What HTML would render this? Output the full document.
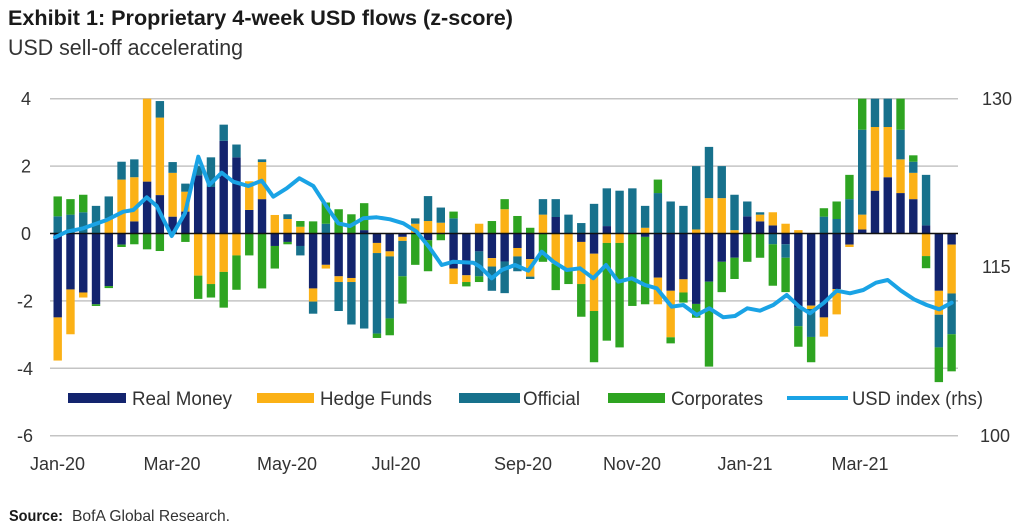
<!DOCTYPE html>
<html><head><meta charset="utf-8">
<style>
html,body{margin:0;padding:0;background:#fff;}
svg{display:block;font-family:"Liberation Sans",Arial,sans-serif;}
</style></head>
<body>
<svg id="c" width="1024" height="529" viewBox="0 0 1024 529" xmlns="http://www.w3.org/2000/svg">
<rect width="1024" height="529" fill="#fff"/>
<text x="8" y="25" font-size="21" font-weight="bold" fill="#1a1a1a" textLength="505" lengthAdjust="spacingAndGlyphs">Exhibit 1: Proprietary  4-week USD flows (z-score)</text>
<text x="8" y="55" font-size="22" fill="#333" textLength="235" lengthAdjust="spacingAndGlyphs">USD sell-off accelerating</text>
<g id="grid" stroke="#c4c4c4" stroke-width="1.5"></g>
<g id="bars"></g>
<line id="zero" x1="50" x2="958" stroke="#111" stroke-width="1.6"/>
<polyline id="usd" fill="none" stroke="#1aa3e5" stroke-width="4" stroke-linejoin="round" stroke-linecap="round"
points="55,237.3 66.7,231.7 83.3,228.3 106.7,220 123.3,211.7 133.3,210 146.7,197.3 156.7,206 171.7,236 185,213.3 198.3,156.7 209.3,185 221.7,172.7 233.3,181.7 248.3,186 261.7,180.7 273.3,196.7 286.7,188.3 299.3,178.3 313.3,186 326.7,206.7 338.3,223.3 350,226 363.3,218.3 376.7,217.3 390,219.3 403.3,223.3 416.7,231.7 430,248.3 441.7,265 453.3,261.7 473.3,262.7 480,266.7 491.7,278.3 501.7,270 515,265 528.3,270.7 541.7,251.7 553.3,261.7 566.7,270 580,268.3 593.3,278.3 606,265 618.3,281.7 631.7,278.3 645,285 656.7,288.3 671.7,306.7 683.3,305 696.7,315 709.3,308.3 723.3,317.3 735,316 747.3,308.3 760,310.7 773.3,305 786.7,295 799.3,306.7 810,313.3 824,302.7 836.7,290.7 850,293.3 863.3,290 876,282.7 887.7,280 901,290.7 914,299.3 926.7,305 939.3,309.3 951.7,302.7"/>
<g font-size="18" fill="#333" text-anchor="end">
<text x="31" y="105">4</text>
<text x="31" y="172.5">2</text>
<text x="31" y="240">0</text>
<text x="33" y="307.5">-2</text>
<text x="33" y="375">-4</text>
<text x="33" y="442">-6</text>
</g>
<g font-size="18" fill="#333">
<text x="982" y="105">130</text>
<text x="982" y="273">115</text>
<text x="980" y="442">100</text>
</g>
<g font-size="18" fill="#333" text-anchor="middle">
<text x="57.5" y="470">Jan-20</text>
<text x="172" y="470">Mar-20</text>
<text x="287" y="470">May-20</text>
<text x="396" y="470">Jul-20</text>
<text x="523" y="470">Sep-20</text>
<text x="632" y="470">Nov-20</text>
<text x="745" y="470">Jan-21</text>
<text x="860" y="470">Mar-21</text>
</g>
<g font-size="19" fill="#333">
<rect x="68" y="393" width="58" height="10" fill="#13246e"/>
<text x="132" y="405" textLength="100" lengthAdjust="spacingAndGlyphs">Real Money</text>
<rect x="257" y="393" width="57" height="10" fill="#fbb116"/>
<text x="320" y="405" textLength="112" lengthAdjust="spacingAndGlyphs">Hedge Funds</text>
<rect x="459" y="393" width="61" height="10" fill="#17718c"/>
<text x="523" y="405" textLength="57" lengthAdjust="spacingAndGlyphs">Official</text>
<rect x="608" y="393" width="57" height="10" fill="#2ea421"/>
<text x="671" y="405" textLength="92" lengthAdjust="spacingAndGlyphs">Corporates</text>
<line x1="787" x2="848" y1="398" y2="398" stroke="#1aa3e5" stroke-width="4"/>
<text x="852" y="405" textLength="131" lengthAdjust="spacingAndGlyphs">USD index (rhs)</text>
</g>
<text x="9" y="521" font-size="16" font-weight="bold" fill="#1a1a1a" textLength="54" lengthAdjust="spacingAndGlyphs">Source:</text>
<text x="72" y="521" font-size="16" fill="#333" textLength="158" lengthAdjust="spacingAndGlyphs">BofA Global Research.</text>
</svg>
<script>
(function(){
var NS="http://www.w3.org/2000/svg";
var y0=233.5,u=33.7;
function Y(v){return y0-v*u;}
var grid=document.getElementById('grid');
[4,2,-2,-4,-6].forEach(function(v){
  var l=document.createElementNS(NS,'line');
  l.setAttribute('x1',50);l.setAttribute('x2',958);
  l.setAttribute('y1',Y(v));l.setAttribute('y2',Y(v));
  grid.appendChild(l);
});
var z=document.getElementById('zero');z.setAttribute('y1',Y(0));z.setAttribute('y2',Y(0));
var C={n:'#13246e',o:'#fbb116',t:'#17718c',g:'#2ea421'};
var D=[
"t.51 g1.1|n-2.49 o-3.77","t.56 g1.02|n-1.66 o-2.99","t.63 g1.15|n-1.75 o-1.9","t.82|n-2.1 g-2.15",
"o.45 t1.1|n-1.56 g-1.62","o1.6 t2.13|n-.33 g-.4","n.36 o1.67 t2.2|g-.32","n1.54 o4|g-.47",
"n1.14 o3.44 t3.93|g-.52","n.5 o1.8 t2.12|","n.65 o1.24 t1.48|g-.25","n1.73 t2|o-1.25 g-1.94",
"n1.38 t2.26|o-1.5 g-1.9","n2.75 t3.23|o-1.14 g-2.2","n2.26 t2.64|o-.65 g-1.67","n.7 o1.55|g-.65",
"n1.02 o2.12 t2.2|g-1.63","o.55|n-.37 g-1.04","o.43 t.57|n-.25 g-.32","o.2 g.37|n-.37 t-.65",
"g.36|n-1.63 o-2.02 t-2.38","t.29 g.92|n-.93 o-1.04","g.72|n-1.27 o-1.44 t-2.3","g.57|n-1.32 o-1.44 t-2.7",
"n.1 g.9|t-2.82","|n-.28 o-.58 t-2.97 g-3.1","|n-.53 o-.68 t-2.52 g-3.02","|n-.1 o-.22 t-1.27 g-2.08",
"o.29 t.45|g-.93","o.37 t1.11|n-.2 g-1.12","o.32 t.77|g-.2","t.45 g.65|n-1.04 o-1.5",
"|n-1.24 o-1.44 g-1.57","o.29|n-.53 t-1.27 g-1.44","g.37|n-.73 o-.98 t-1.7","o.72 g1.02|n-.83 t-1.77",
"g.52|n-.43 o-.68 t-1.12","g.17|n-.76 o-1.28 t-1.35","o.56 t1.02|g-.84","n.49 t1.02|o-.9 g-1.68",
"t.56|o-1.1 g-1.5","t.31|n-.25 o-1.5 g-2.47","t.88|n-.6 o-2.3 g-3.82","n.22 t1.34|o-.28 g-3.18",
"t1.27|o-.28 g-3.38","t1.34|g-2.15","o.17 t.82|n-.1 g-2.1","t1.2 g1.6|n-1.31 o-2.1",
"t.95|n-1.7 o-3.08 g-3.26","t.82|n-1.36 o-1.75 g-2.05","o.12 t2|n-2.09 g-2.5","o1.05 t2.57|n-1.43 g-3.95",
"o1.05 t2|n-.84 g-1.74","o.1 t1.15|n-.72 g-1.35","n.51 t.95|g-.84","n.36 o.56 t.63|g-.72",
"n.24 o.63|t-.32 g-1.55","o.29|n-.32 t-.72 g-1.74","o.1|n-2.2 t-2.75 g-3.36","|n-2.14 o-2.24 t-3.07 g-3.82",
"t.5 g.75|n-2.49 o-3.06","t.43 g.95|n-1.65 o-2.4","t1.02 g1.74|n-.33 o-.4","n.12 o.56 t3.08 g4|",
"n1.27 o3.16 t4|","n1.67 o3.16 t4|","n1.2 o2.2 t3.08 g4|","n1.02 o1.8 t2.13 g2.32|",
"n.24 t1.74|o-.67 g-1.03","|n-1.7 o-2.41 t-3.38 g-4.41","|n-.33 o-1.78 t-2.99 g-4.09"
];
var bars=document.getElementById('bars');
var w=8.4;
D.forEach(function(s,i){
  var cx=57.7+i*12.77;
  s.split('|').forEach(function(part){
    var prev=0;
    part.split(' ').forEach(function(tok){
      if(!tok)return;
      var c=tok.charAt(0),v=parseFloat(tok.slice(1));
      var a=Y(prev),b=Y(v);
      var r=document.createElementNS(NS,'rect');
      r.setAttribute('x',(cx-w/2).toFixed(2));
      r.setAttribute('width',w);
      r.setAttribute('y',Math.min(a,b).toFixed(2));
      r.setAttribute('height',Math.abs(b-a).toFixed(2));
      r.setAttribute('fill',C[c]);
      bars.appendChild(r);
      prev=v;
    });
  });
});
})();
</script>
</body></html>
